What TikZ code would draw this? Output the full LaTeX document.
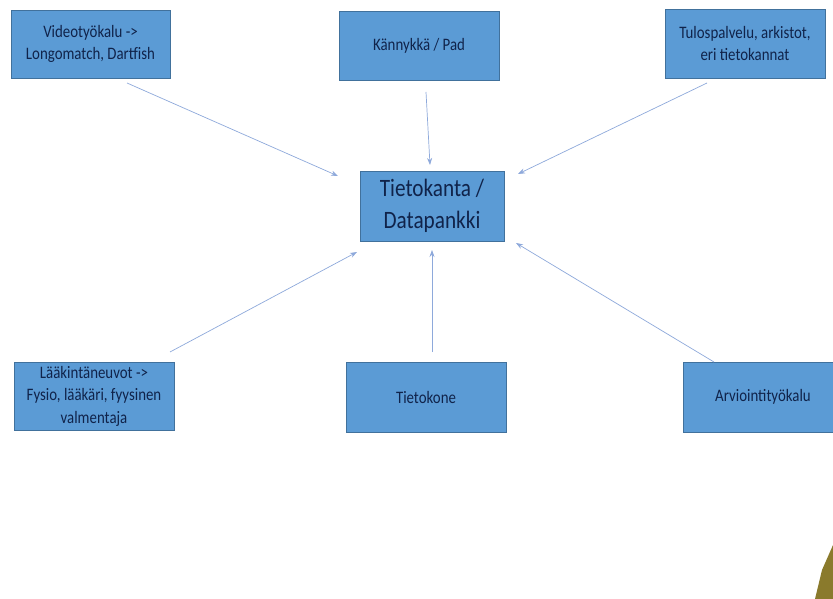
\documentclass[tikz,border=0pt]{standalone}
\usepackage{fontspec}
\setmainfont{Carlito}[FakeStretch=0.85]
\usetikzlibrary{arrows.meta}
\definecolor{boxfill}{HTML}{5B9BD5}
\definecolor{boxline}{HTML}{41719C}
\definecolor{boxtext}{HTML}{10234A}
\definecolor{arrowcol}{HTML}{8EA9DB}
\definecolor{olive}{HTML}{8A7A2C}
\begin{document}
\begin{tikzpicture}[x=1pt,y=-1pt,
  srcbox/.style={draw=boxline,line width=0.8pt,fill=boxfill,text=boxtext,align=center,
    font=\fontsize{17.5}{22.5}\selectfont,inner sep=0pt},
  conn/.style={draw=arrowcol,line width=0.7pt,-{Stealth[length=7pt,width=5pt]}}]
\useasboundingbox (0,0) rectangle (833,599);
\fill[white] (0,0) rectangle (833,599);
\fill[olive] (833,545) -- (822,570) -- (815,599) -- (833,599) -- cycle;
\node[srcbox,minimum width=159pt,minimum height=68pt] (video) at (90.5,44) {Videotyökalu ->\\Longomatch, Dartfish};
\node[srcbox,minimum width=160pt,minimum height=69pt] (phone) at (419,45.5) {Kännykkä / Pad};
\node[srcbox,minimum width=160pt,minimum height=69pt] (tulos) at (745,43.5) {Tulospalvelu, arkistot,\\eri tietokannat};
\node[srcbox,minimum width=144pt,minimum height=70pt,font=\fontsize{25}{32}\selectfont] (db) at (432,206) {Tietokanta /\\Datapankki};
\node[srcbox,minimum width=160pt,minimum height=68pt] (laak) at (94,396) {Lääkintäneuvot ->\\Fysio, lääkäri, fyysinen\\valmentaja};
\node[srcbox,minimum width=160pt,minimum height=70pt] (kone) at (426,397) {Tietokone};
\node[srcbox,minimum width=160pt,minimum height=70pt] (arvio) at (763,397) {Arviointityökalu};
\coordinate (v0) at (127,83);
\coordinate (v1) at (338,176);
\coordinate (p0) at (426,92);
\coordinate (p1) at (430,165);
\coordinate (t0) at (707,83);
\coordinate (t1) at (518,174);
\coordinate (l0) at (170,352);
\coordinate (l1) at (357,252);
\coordinate (k0) at (432,352);
\coordinate (k1) at (432,250);
\coordinate (a0) at (714,362);
\coordinate (a1) at (516,243);
\draw[conn] (v0) -- (v1);
\draw[conn] (p0) -- (p1);
\draw[conn] (t0) -- (t1);
\draw[conn] (l0) -- (l1);
\draw[conn] (k0) -- (k1);
\draw[conn] (a0) -- (a1);
\end{tikzpicture}
\end{document}
